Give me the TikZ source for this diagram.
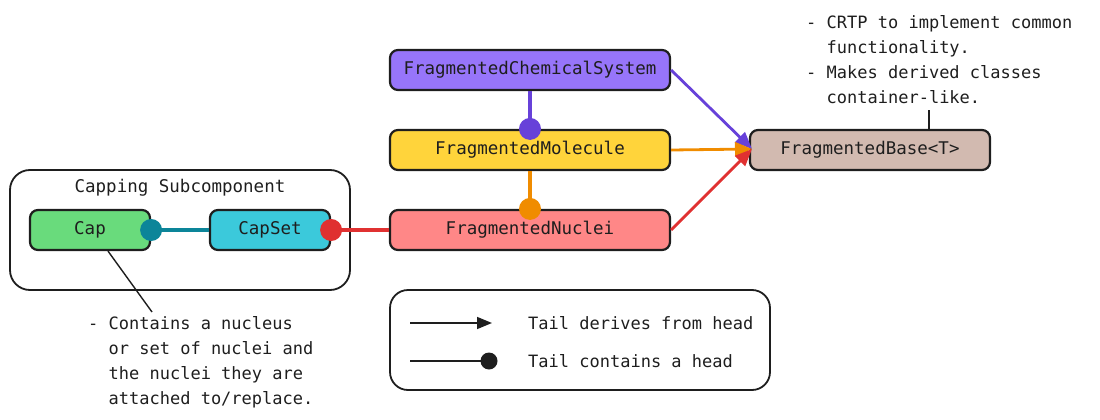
\documentclass[tikz,border=0pt]{standalone}
\usepackage{fontspec}
\setmainfont{DejaVu Sans Mono}
\usetikzlibrary{arrows.meta}
\definecolor{cfcs}{HTML}{9775FA}
\definecolor{cfm}{HTML}{FFD43B}
\definecolor{cfn}{HTML}{FF8787}
\definecolor{cfb}{HTML}{D2BAB0}
\definecolor{ccap}{HTML}{69DB7C}
\definecolor{ccapset}{HTML}{3BC9DB}
\definecolor{lpurple}{HTML}{6741D9}
\definecolor{lorange}{HTML}{F08C00}
\definecolor{lred}{HTML}{E03131}
\definecolor{lteal}{HTML}{0C8599}
\definecolor{ink}{HTML}{1E1E1E}
\tikzset{
  cls/.style={draw=ink, line width=2.2pt, rounded corners=8pt, minimum height=40pt, inner sep=0pt, font=\fontsize{17.5}{21}\selectfont, text=ink},
  frame/.style={draw=ink, line width=1.8pt, rounded corners=20pt, inner sep=0pt},
  note/.style={align=left, inner sep=0pt, font=\fontsize{17}{25}\selectfont, text=ink},
  conn/.style={line width=3.2pt},
  derive/.style={line width=2.8pt, -{Triangle[length=17pt,width=14pt]}},
  leader/.style={draw=ink, line width=1.4pt}
}
\begin{document}
\begin{tikzpicture}[x=1pt,y=-1pt]
\useasboundingbox (0,0) rectangle (1100,420);
% group frame
\node[frame, minimum width=340pt, minimum height=120pt] (sub) at (180,230) {};
\node[inner sep=0pt, font=\fontsize{17.5}{21}\selectfont, text=ink] (subl) at (180,188) {Capping Subcomponent};
% class nodes
\node[cls, fill=cfcs, minimum width=280pt] (fcs) at (530,70) {FragmentedChemicalSystem};
\node[cls, fill=cfm, minimum width=280pt] (fm) at (530,150) {FragmentedMolecule};
\node[cls, fill=cfn, minimum width=280pt] (fn) at (530,230) {FragmentedNuclei};
\node[cls, fill=cfb, minimum width=240pt] (fb) at (870,150) {FragmentedBase<T>};
\node[cls, fill=ccap, minimum width=120pt] (cap) at (90,230) {Cap};
\node[cls, fill=ccapset, minimum width=120pt] (capset) at (270,230) {CapSet};
% containment
\draw[conn, lpurple] (fcs.south) -- (fm.north);
\fill[lpurple] (fm.north) circle[radius=11pt];
\draw[conn, lorange] (fm.south) -- (fn.north);
\fill[lorange] (fn.north) circle[radius=11pt];
\draw[conn, lred] (fn.west) -- (capset.east);
\fill[lred] (capset.east) circle[radius=11pt];
\draw[conn, lteal] (capset.west) -- (cap.east);
\fill[lteal] (cap.east) circle[radius=11pt];
% derivation
\coordinate (tip) at (752,149);
\draw[derive, lpurple] (fcs.east) -- (tip);
\draw[derive, lorange] (fm.east) -- (tip);
\draw[derive, lred] (fn.east) -- (tip);
% annotations
\node[note, anchor=north west] (ann1) at (806,15) {- CRTP to implement common\\\phantom{- }functionality.\\- Makes derived classes\\\phantom{- }container-like.};
\coordinate (a1) at (929,110);
\draw[leader] (a1) -- (a1 |- fb.north);
\node[note, anchor=north west] (ann2) at (88,316) {- Contains a nucleus\\\phantom{- }or set of nuclei and\\\phantom{- }the nuclei they are\\\phantom{- }attached to/replace.};
\coordinate (a2) at (152,312);
\draw[leader] ([xshift=18pt]cap.south) -- (a2);
% legend
\node[frame, minimum width=380pt, minimum height=100pt, rounded corners=18pt] (leg) at (580,340) {};
\coordinate (l1a) at (410,323);
\coordinate (l1b) at (492,323);
\coordinate (l2a) at (410,361);
\coordinate (l2b) at (489,361);
\draw[line width=1.6pt, ink, -{Triangle[length=15pt,width=12pt]}] (l1a) -- (l1b);
\draw[line width=1.6pt, ink] (l2a) -- (l2b);
\fill[ink] (l2b) circle[radius=8.5pt];
\node[note, anchor=west] (t1) at (528,323) {Tail derives from head};
\node[note, anchor=west] (t2) at (528,361) {Tail contains a head};
\end{tikzpicture}
\end{document}
